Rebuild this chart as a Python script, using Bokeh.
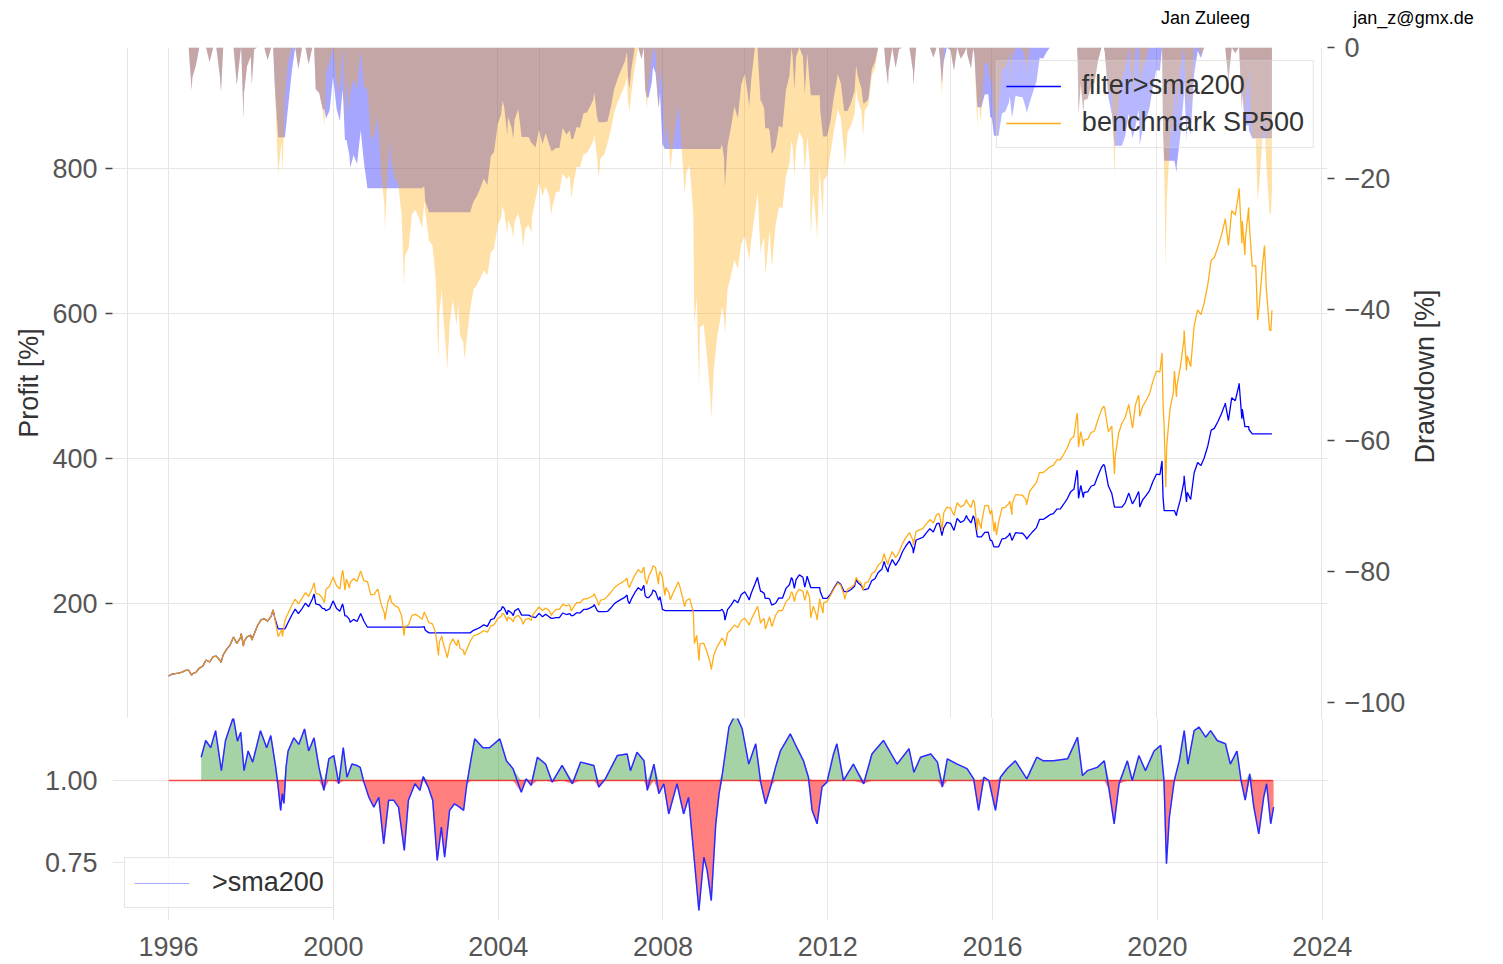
import math
import numpy as np
import pandas as pd
from bokeh.plotting import figure
from bokeh.layouts import column, row
from bokeh.models import (ColumnDataSource, Range1d, LinearAxis, FixedTicker, Grid, Plot,
                          Legend, LegendItem, Label, DatetimeTickFormatter, PrintfTickFormatter)
from bokeh.embed import file_html
from bokeh.resources import INLINE

FONT = "Liberation Sans"

# ---------------- data ----------------
dates = [
    "1996-01-02","1996-01-31","1996-02-29","1996-03-29","1996-04-30","1996-05-31","1996-06-28","1996-07-24","1996-07-31","1996-08-30","1996-09-30","1996-10-31","1996-11-29","1996-12-31",
    "1997-01-31","1997-02-28","1997-03-31","1997-04-11","1997-04-30","1997-05-30","1997-06-30","1997-07-31","1997-08-29","1997-09-30","1997-10-07","1997-10-27","1997-10-31","1997-11-28","1997-12-31",
    "1998-01-09","1998-01-30","1998-02-27","1998-03-31","1998-04-30","1998-05-29","1998-06-30","1998-07-17","1998-07-31","1998-08-31","1998-09-30","1998-10-08","1998-10-30","1998-11-30","1998-12-31",
    "1999-01-29","1999-02-26","1999-03-31","1999-04-30","1999-05-28","1999-06-30","1999-07-16","1999-07-30","1999-08-31","1999-09-30","1999-10-15","1999-10-29","1999-11-30","1999-12-31",
    "2000-01-31","2000-02-29","2000-03-24","2000-03-31","2000-04-14","2000-04-28","2000-05-24","2000-05-31","2000-06-30","2000-07-31","2000-08-31","2000-09-01","2000-09-29","2000-10-31","2000-11-30","2000-12-29",
    "2001-01-31","2001-02-28","2001-03-30","2001-04-04","2001-04-30","2001-05-21","2001-05-31","2001-06-29","2001-07-31","2001-08-31","2001-09-21","2001-09-28","2001-10-31","2001-11-30","2001-12-31",
    "2002-01-31","2002-02-28","2002-03-19","2002-03-28","2002-04-30","2002-05-31","2002-06-28","2002-07-23","2002-07-31","2002-08-22","2002-08-30","2002-09-30","2002-10-09","2002-10-31","2002-11-27","2002-11-29","2002-12-31",
    "2003-01-14","2003-01-31","2003-02-28","2003-03-11","2003-03-31","2003-04-30","2003-05-30","2003-06-30","2003-07-31","2003-08-29","2003-09-30","2003-10-31","2003-11-28","2003-12-31",
    "2004-01-30","2004-02-11","2004-02-27","2004-03-24","2004-03-31","2004-04-30","2004-05-17","2004-05-28","2004-06-30","2004-07-30","2004-08-12","2004-08-31","2004-09-30","2004-10-25","2004-10-29","2004-11-30","2004-12-31",
    "2005-01-31","2005-02-28","2005-03-31","2005-04-20","2005-04-29","2005-05-31","2005-06-30","2005-07-29","2005-08-31","2005-09-30","2005-10-13","2005-10-31","2005-11-30","2005-12-30",
    "2006-01-31","2006-02-28","2006-03-31","2006-04-28","2006-05-05","2006-05-31","2006-06-13","2006-06-30","2006-07-31","2006-08-31","2006-09-29","2006-10-31","2006-11-30","2006-12-29",
    "2007-01-31","2007-02-20","2007-02-28","2007-03-13","2007-03-30","2007-04-30","2007-05-31","2007-06-29","2007-07-19","2007-07-31","2007-08-15","2007-08-31","2007-09-28","2007-10-09","2007-10-31","2007-11-26","2007-11-30","2007-12-10","2007-12-31",
    "2008-01-22","2008-01-31","2008-02-29","2008-03-10","2008-03-31","2008-04-30","2008-05-19","2008-05-30","2008-06-30","2008-07-15","2008-07-31","2008-08-29","2008-09-30","2008-10-10","2008-10-31","2008-11-20","2008-11-28","2008-12-31",
    "2009-01-30","2009-02-27","2009-03-09","2009-03-31","2009-04-30","2009-05-29","2009-06-12","2009-06-30","2009-07-08","2009-07-31","2009-08-31","2009-09-30","2009-10-30","2009-11-30","2009-12-31",
    "2010-01-29","2010-02-08","2010-02-26","2010-03-31","2010-04-23","2010-04-30","2010-05-20","2010-05-28","2010-06-21","2010-06-30","2010-07-02","2010-07-30","2010-08-09","2010-08-26","2010-08-31","2010-09-30","2010-10-29","2010-11-30","2010-12-31",
    "2011-01-31","2011-02-18","2011-02-28","2011-03-16","2011-03-31","2011-04-29","2011-05-31","2011-06-16","2011-06-30","2011-07-07","2011-07-29","2011-08-08","2011-08-31","2011-09-30","2011-10-03","2011-10-27","2011-10-31","2011-11-25","2011-11-30","2011-12-30",
    "2012-01-31","2012-02-29","2012-03-30","2012-04-02","2012-04-30","2012-05-31","2012-06-04","2012-06-29","2012-07-31","2012-08-31","2012-09-14","2012-09-28","2012-10-31","2012-11-15","2012-11-30","2012-12-31",
    "2013-01-31","2013-02-28","2013-03-28","2013-04-30","2013-05-21","2013-05-31","2013-06-24","2013-06-28","2013-07-31","2013-08-30","2013-09-30","2013-10-31","2013-11-29","2013-12-31",
    "2014-01-31","2014-02-03","2014-02-28","2014-03-31","2014-04-30","2014-05-30","2014-06-30","2014-07-31","2014-08-29","2014-09-18","2014-09-30","2014-10-15","2014-10-31","2014-11-28","2014-12-31",
    "2015-01-30","2015-02-27","2015-03-31","2015-04-30","2015-05-21","2015-05-29","2015-06-30","2015-07-20","2015-07-31","2015-08-25","2015-08-31","2015-09-29","2015-09-30","2015-10-30","2015-11-30","2015-12-18","2015-12-31",
    "2016-01-20","2016-01-29","2016-02-11","2016-02-29","2016-03-31","2016-04-29","2016-05-31","2016-06-08","2016-06-27","2016-06-30","2016-07-29","2016-08-31","2016-09-30","2016-10-31","2016-11-04","2016-11-30","2016-12-30",
    "2017-01-31","2017-02-28","2017-03-31","2017-04-28","2017-05-31","2017-06-30","2017-07-31","2017-08-31","2017-09-29","2017-10-31","2017-11-30","2017-12-29",
    "2018-01-26","2018-01-31","2018-02-08","2018-02-28","2018-03-23","2018-03-29","2018-04-30","2018-05-31","2018-06-29","2018-07-31","2018-08-31","2018-09-20","2018-09-28","2018-10-31","2018-11-30","2018-12-24","2018-12-31",
    "2019-01-31","2019-02-28","2019-03-29","2019-04-30","2019-05-31","2019-06-03","2019-06-28","2019-07-26","2019-07-31","2019-08-05","2019-08-30","2019-09-30","2019-10-31","2019-11-29","2019-12-31",
    "2020-01-31","2020-02-19","2020-02-28","2020-03-09","2020-03-23","2020-03-31","2020-04-30","2020-05-29","2020-06-08","2020-06-26","2020-06-30","2020-07-31","2020-08-31","2020-09-02","2020-09-23","2020-09-30","2020-10-30","2020-11-30","2020-12-31",
    "2021-01-29","2021-02-26","2021-03-31","2021-04-30","2021-05-28","2021-06-30","2021-07-30","2021-08-31","2021-09-02","2021-09-30","2021-10-29","2021-11-30","2021-12-31",
    "2022-01-03","2022-01-27","2022-01-31","2022-02-23","2022-02-28","2022-03-29","2022-03-31","2022-04-29","2022-05-31","2022-06-16","2022-06-30","2022-07-29","2022-08-16","2022-08-31","2022-09-30","2022-10-12","2022-10-21",
]

benchmark = [
    100.0,102.5,103.2,104.0,105.4,107.8,108.0,101.0,103.1,105.0,110.7,113.6,122.0,119.3,
    126.6,127.4,122.0,118.8,129.1,136.7,142.6,153.7,144.9,152.6,158.4,141.3,147.3,153.9,156.3,
    149.5,157.9,169.0,177.5,179.1,175.7,182.7,191.2,180.5,154.2,163.8,154.6,177.0,187.5,198.0,
    206.2,199.5,207.2,215.1,209.7,221.1,228.6,214.1,212.7,206.6,201.0,219.6,223.8,236.7,
    224.6,220.1,246.1,241.4,218.5,234.0,221.3,228.9,234.3,230.5,244.5,245.0,231.4,230.3,211.8,212.7,
    220.1,199.8,186.9,177.7,201.3,211.5,202.3,197.2,195.1,182.6,155.6,167.7,170.7,183.6,185.0,
    182.1,178.3,188.5,184.8,173.5,171.9,159.5,128.5,146.9,155.1,147.6,131.3,125.1,142.7,151.3,150.8,141.7,
    150.1,137.9,135.5,129.0,136.6,147.7,155.2,157.0,159.5,162.4,160.4,169.3,170.5,179.1,
    182.2,186.5,184.4,175.8,181.4,178.4,174.6,180.5,183.8,177.5,171.3,177.9,179.6,176.4,182.1,189.1,195.2,
    190.3,193.9,190.2,183.3,186.4,191.9,191.9,198.8,196.6,198.0,189.6,194.4,201.3,201.1,
    206.2,206.3,208.6,211.1,213.6,204.6,197.1,204.6,205.7,210.0,215.2,222.0,225.6,228.5,
    231.7,235.2,226.6,222.0,228.9,238.8,246.6,242.2,250.2,234.4,226.6,237.5,246.0,252.1,249.6,226.7,238.6,244.2,236.6,
    211.1,222.1,214.4,205.1,213.1,223.2,229.8,225.6,206.2,195.7,204.2,206.7,187.9,144.9,156.1,121.2,144.4,145.5,
    133.1,118.4,109.0,128.5,140.6,148.1,152.4,148.1,141.6,159.1,164.4,170.3,166.9,176.5,179.6,
    173.0,170.2,177.9,188.4,196.1,191.2,172.6,175.5,179.3,166.0,164.7,177.5,181.7,168.7,169.0,183.8,190.6,190.2,202.6,
    207.2,216.4,213.8,202.5,213.6,219.7,216.7,204.2,212.8,218.0,208.2,180.3,196.4,182.3,177.1,206.9,201.9,186.7,200.9,202.6,
    211.4,220.0,226.9,228.6,225.2,211.1,205.9,219.4,222.2,226.6,236.1,232.1,227.5,218.0,228.1,229.8,
    241.3,244.0,252.8,257.4,268.9,262.7,253.4,258.8,271.6,263.1,270.9,283.0,290.9,297.8,
    287.2,280.6,299.6,301.6,303.5,309.9,315.8,311.0,322.7,324.0,317.7,300.0,325.1,333.1,331.7,
    321.4,339.0,333.1,336.0,343.3,339.5,332.4,342.9,338.9,300.9,317.7,303.2,309.3,335.0,335.2,323.1,329.3,
    299.5,312.6,294.7,311.3,331.8,332.7,337.8,341.4,322.3,338.1,350.2,349.7,349.3,342.5,335.9,354.2,360.7,
    367.1,380.8,380.6,384.1,388.5,390.4,398.0,398.2,405.9,414.9,426.5,430.7,
    462.8,454.9,415.8,437.2,417.0,425.4,426.6,435.8,437.9,453.7,467.4,472.1,469.4,436.9,444.7,378.8,403.9,
    435.6,448.6,456.6,474.6,443.4,442.1,473.9,487.5,480.1,458.3,471.5,479.6,489.4,506.0,520.5,
    519.6,545.5,475.9,442.5,360.4,416.4,469.2,490.4,520.7,484.8,499.5,527.0,563.9,576.9,521.5,541.8,526.8,583.4,605.1,
    598.4,614.0,640.0,673.6,677.3,692.3,708.1,728.6,730.9,693.9,741.9,735.7,767.8,
    772.7,697.0,727.5,680.7,704.6,746.2,729.8,665.6,665.7,590.7,609.8,665.4,693.6,637.2,577.6,576.3,604.6,
]

strategy = [
    100.0,102.5,103.2,104.0,105.4,107.8,108.0,101.0,103.1,105.0,110.7,113.6,122.0,119.3,
    126.6,127.4,122.0,118.8,129.1,136.7,142.6,153.7,144.9,152.6,158.4,141.3,147.3,153.9,156.3,
    149.5,157.9,169.0,177.5,179.1,175.7,182.7,191.2,180.5,165.0,165.0,165.0,165.0,174.8,184.5,
    192.2,185.9,193.1,200.5,195.4,206.1,213.1,199.5,198.2,193.0,193.0,190.0,192.5,203.6,
    193.2,189.2,199.3,195.5,183.0,183.0,178.0,174.0,178.1,175.2,185.8,186.2,175.9,167.3,167.3,167.3,
    167.3,167.3,167.3,167.3,167.3,167.3,167.3,167.3,167.3,167.3,167.3,167.3,167.3,167.3,167.3,
    167.3,167.3,168.0,163.0,159.5,159.5,159.5,159.5,159.5,159.5,159.5,159.5,159.5,159.5,159.5,159.5,159.5,
    159.5,159.5,159.5,159.5,159.5,159.5,163.0,164.9,167.5,170.5,168.4,177.8,179.0,188.1,
    191.3,195.8,193.6,184.6,190.5,187.3,183.3,189.5,193.0,184.0,184.0,184.0,184.0,182.0,182.0,180.6,186.4,
    181.7,185.2,181.6,179.5,179.5,180.4,180.4,186.9,184.8,186.1,183.3,183.3,187.2,187.0,
    191.8,191.9,194.0,196.3,198.6,190.3,188.8,188.8,188.8,189.0,193.7,199.8,203.0,205.7,
    208.5,211.7,203.9,199.8,206.0,214.9,221.9,218.0,225.2,211.0,208.0,208.0,213.3,218.6,216.4,205.0,205.0,209.5,192.0,
    190.3,190.3,190.3,190.3,190.3,190.3,190.3,190.3,190.3,190.3,190.3,190.3,190.3,190.3,190.3,190.3,190.3,190.3,
    190.3,190.3,190.3,190.3,190.3,190.3,192.0,187.0,177.0,191.6,197.9,205.0,200.9,212.5,216.2,
    208.3,204.9,214.2,226.8,236.1,230.2,216.7,216.7,214.0,207.0,207.0,207.0,206.0,198.0,198.0,200.3,207.8,207.3,220.8,
    225.8,235.9,233.0,220.7,232.8,239.5,236.2,222.6,231.9,237.6,226.9,222.0,222.0,222.0,222.0,222.0,216.6,207.0,207.0,207.0,
    212.7,221.3,228.3,230.0,226.6,216.3,216.3,216.3,219.3,223.7,233.0,229.1,224.5,219.1,219.1,220.6,
    231.6,234.2,242.7,247.1,258.1,252.2,243.3,248.4,260.7,252.6,260.1,271.7,279.3,285.9,
    275.7,269.4,287.6,289.5,291.4,297.5,303.2,298.6,309.8,311.0,305.0,293.8,304.2,311.8,310.5,
    300.8,317.3,311.8,314.5,321.3,317.8,311.1,321.0,317.2,292.0,292.0,292.0,292.0,298.2,298.4,287.0,287.0,
    278.0,278.0,278.0,278.0,289.1,289.8,294.2,297.4,287.5,287.5,297.7,297.2,296.9,291.1,289.0,294.0,299.4,
    304.7,316.1,315.9,318.8,322.5,324.0,330.3,330.5,336.9,344.4,354.0,357.5,
    384.1,377.6,345.1,362.9,346.1,353.1,354.1,361.7,363.5,376.6,387.9,391.8,389.6,362.0,352.0,333.0,333.0,
    333.0,333.0,338.9,352.3,337.8,337.8,344.5,354.4,349.0,333.2,342.8,348.7,355.8,367.9,378.4,
    377.7,396.6,346.0,328.0,328.0,328.0,328.0,328.0,328.0,321.0,325.7,343.6,367.7,376.1,340.0,353.3,343.5,380.4,394.5,
    390.2,400.3,417.3,439.2,441.6,451.4,461.7,475.0,476.5,452.4,483.7,479.7,500.6,
    503.8,455.0,468.0,444.0,444.0,444.0,440.0,434.0,434.0,434.0,434.0,434.0,434.0,434.0,434.0,434.0,434.0,
]

# price / sma200 ratio (decimal year, value)
ratio_year = [
    1996.79,1996.90,1997.02,1997.14,1997.28,1997.38,1997.57,1997.67,1997.75,1997.83,1997.93,
    1998.04,1998.23,1998.38,1998.48,1998.60,1998.65,1998.72,1998.76,1998.80,1998.85,1998.90,
    1999.04,1999.16,1999.30,1999.40,1999.53,1999.65,1999.77,1999.89,
    2000.01,2000.13,2000.24,2000.33,2000.45,2000.57,2000.65,2000.74,2000.86,2000.98,
    2001.10,2001.22,2001.34,2001.46,2001.58,2001.72,2001.82,2001.98,
    2002.10,2002.18,2002.30,2002.41,2002.52,2002.62,2002.70,2002.82,2002.94,
    2003.06,2003.16,2003.24,2003.35,2003.43,2003.63,2003.79,
    2004.04,2004.20,2004.36,2004.56,2004.68,2004.80,2004.95,
    2005.15,2005.31,2005.55,2005.80,2006.00,2006.32,2006.44,2006.60,2006.89,
    2007.13,2007.21,2007.37,2007.54,2007.62,2007.78,2007.90,
    2008.02,2008.14,2008.34,2008.50,2008.62,2008.79,2008.87,2008.99,
    2009.07,2009.17,2009.28,2009.36,2009.44,2009.60,2009.76,2009.92,
    2010.08,2010.25,2010.37,2010.49,2010.61,2010.73,2010.85,
    2011.09,2011.25,2011.41,2011.53,2011.62,2011.74,2011.86,2011.98,
    2012.14,2012.22,2012.38,2012.62,2012.87,2013.07,2013.35,2013.68,2013.97,
    2014.09,2014.25,2014.50,2014.66,2014.78,2014.90,
    2015.14,2015.38,2015.54,2015.66,2015.79,2015.91,
    2016.07,2016.19,2016.35,2016.55,2016.83,2017.07,2017.23,2017.47,2017.82,
    2018.06,2018.18,2018.30,2018.54,2018.71,2018.83,2018.95,
    2019.07,2019.27,2019.39,2019.55,2019.71,2019.92,
    2020.08,2020.16,2020.22,2020.29,2020.41,2020.53,2020.65,2020.74,2020.89,
    2021.01,2021.17,2021.29,2021.45,2021.65,2021.77,2021.93,
    2022.03,2022.13,2022.24,2022.34,2022.46,2022.58,2022.65,2022.75,2022.82,
]
ratio_value = [
    1.071,1.122,1.100,1.152,1.030,1.122,1.193,1.120,1.147,1.030,1.090,
    1.056,1.152,1.100,1.137,1.040,0.990,0.909,0.960,0.930,1.040,1.090,
    1.130,1.110,1.157,1.090,1.130,1.040,0.970,1.066,
    1.076,0.990,1.100,1.010,1.050,1.046,1.040,0.995,0.949,0.919,
    0.949,0.807,0.940,0.940,0.919,0.787,0.940,0.990,
    0.970,1.012,0.980,0.940,0.756,0.858,0.766,0.909,0.929,
    0.919,0.909,0.990,1.071,1.127,1.100,1.100,
    1.127,1.060,1.036,0.964,1.005,0.985,1.071,
    1.050,0.995,1.046,0.990,1.056,1.046,0.980,1.005,1.076,
    1.081,1.030,1.086,1.060,0.970,1.050,0.960,
    0.990,0.898,0.990,0.898,0.949,0.715,0.604,0.766,
    0.726,0.634,0.868,0.960,1.020,1.163,1.203,1.158,
    1.050,1.112,0.995,0.929,0.980,1.040,1.090,
    1.142,1.100,1.060,1.010,0.909,0.868,0.980,0.995,
    1.081,1.112,1.000,1.050,0.990,1.081,1.122,1.050,1.097,
    1.025,1.071,1.081,1.056,0.980,1.066,
    1.050,1.036,1.005,0.909,1.010,1.000,
    0.909,1.010,1.036,1.060,1.005,1.071,1.060,1.060,1.066,
    1.132,1.015,1.030,1.040,1.060,0.970,0.868,
    0.990,1.060,1.000,1.076,1.030,1.090,
    1.107,1.000,0.746,0.888,1.000,1.060,1.152,1.050,1.152,
    1.163,1.132,1.152,1.122,1.112,1.050,1.090,
    1.000,0.940,1.020,0.919,0.837,0.949,0.990,0.868,0.919,
]

tick_years = [1996, 2000, 2004, 2008, 2012, 2016, 2020, 2024]
profit_ticks = [200, 400, 600, 800]
dd_ticks = [0, -20, -40, -60, -80, -100]
ratio_ticks = [0.75, 1.0]
ratio_baseline = 1.0
author = "Jan Zuleeg"
email = "jan_z@gmx.de"
dd_title = "Drawdown [%]"

assert len(dates) == len(benchmark) == len(strategy), (len(dates), len(benchmark), len(strategy))
assert len(ratio_year) == len(ratio_value), (len(ratio_year), len(ratio_value))

# ---------------- derived ----------------
t = pd.to_datetime(dates)
bench = np.array(benchmark)
strat = np.array(strategy)
dd_bench = (bench / np.maximum.accumulate(bench) - 1.0) * 100.0
dd_strat = (strat / np.maximum.accumulate(strat) - 1.0) * 100.0


def frac_year(y):
    yi = int(y)
    a = pd.Timestamp(year=yi, month=1, day=1)
    b = pd.Timestamp(year=yi + 1, month=1, day=1)
    return a + (b - a) * (y - yi)


rt = pd.DatetimeIndex([frac_year(y) for y in ratio_year])
r = np.array(ratio_value)
r_up = np.maximum(r, ratio_baseline)
r_dn = np.minimum(r, ratio_baseline)

year_ms = [pd.Timestamp(year=y, month=1, day=1).value / 1e6 for y in tick_years]

# ---------------- layout (pixels) ----------------
W = 1495
HEAD = 34                        # header strip height
FR_L, FR_R = 112, 1328           # frame left / right
FR_T, FR_MID, FR_B = 47, 718, 920
W1 = 1408                        # width of top panel (incl. right axis)
GRID = "#e6e6e6"
HAS_FA = "frame_align" in Plot.properties()

X0, X1 = pd.Timestamp("1994-08-22"), pd.Timestamp("2024-02-26")
x_range = Range1d(X0, X1)
PX_PER_PROFIT = 0.725
PX_PER_DD = 6.55
P_HI = 800 + (168 - FR_T) / PX_PER_PROFIT
P_LO = P_HI - (FR_MID - FR_T) / PX_PER_PROFIT
DD_LO = -(FR_MID - FR_T) / PX_PER_DD


def style_axis(ax, tick_out=7):
    ax.axis_line_color = None
    ax.major_tick_out = tick_out
    ax.major_tick_in = 0
    ax.minor_tick_out = 0
    ax.minor_tick_in = 0
    ax.major_tick_line_color = "#444444"
    ax.major_tick_line_width = 1.5
    ax.major_label_text_font = FONT
    ax.major_label_text_font_size = "27px"
    ax.major_label_text_color = "#555555"
    ax.axis_label_text_font = FONT
    ax.axis_label_text_font_size = "27px"
    ax.axis_label_text_font_style = "normal"
    ax.axis_label_text_color = "#333333"


def blank(width, height, xr, yr):
    f = figure(width=width, height=height, x_range=xr, y_range=yr,
               x_axis_location=None, y_axis_location=None,
               output_backend="svg", toolbar_location=None, min_border=0)
    f.outline_line_color = None
    f.xgrid.visible = False
    f.ygrid.visible = False
    if HAS_FA:
        f.frame_align = False
    return f


# ---------------- header strip with the author texts ----------------
if HAS_FA:
    p0 = blank(W, HEAD, Range1d(0, W), Range1d(HEAD, 0))
else:
    p0 = blank(W, HEAD, Range1d(FR_L, FR_R), Range1d(HEAD, 0))
p0.add_layout(Label(x=1205, y=17, text=author, text_align="center", text_baseline="middle",
                    text_font=FONT, text_font_size="18px", text_color="black"))
p0.add_layout(Label(x=1413, y=17, text=email, text_align="center", text_baseline="middle",
                    text_font=FONT, text_font_size="18px", text_color="black"))

# ---------------- top panel ----------------
p1 = figure(width=W1 if HAS_FA else W, height=FR_MID - HEAD, x_range=x_range, y_range=Range1d(P_LO, P_HI),
            x_axis_type="datetime", x_axis_location=None,
            output_backend="svg", toolbar_location=None,
            min_border_left=FR_L, min_border_right=(W1 if HAS_FA else W) - FR_R,
            min_border_top=FR_T - HEAD, min_border_bottom=0)
p1.outline_line_color = None
p1.extra_y_ranges = {"dd": Range1d(DD_LO, 0)}

p1.add_layout(Grid(dimension=0, ticker=FixedTicker(ticks=year_ms),
                   grid_line_color=GRID, grid_line_width=1))
p1.ygrid.grid_line_color = GRID
p1.yaxis.ticker = FixedTicker(ticks=profit_ticks)
p1.yaxis.axis_label = "Profit [%]"
style_axis(p1.yaxis[0])
p1.yaxis.major_label_standoff = 8
p1.yaxis.axis_label_standoff = 5

src = ColumnDataSource(dict(t=t, bench=bench, strat=strat, ddb=dd_bench, dds=dd_strat))
l_strat = p1.line("t", "strat", source=src, line_color="#0000ff", line_width=1.3)
l_bench = p1.line("t", "bench", source=src, line_color="#ffa500", line_width=1.3, line_alpha=0.9)
p1.varea(x="t", y1=0, y2="dds", source=src, y_range_name="dd", fill_color="#0000ff", fill_alpha=0.35)
p1.varea(x="t", y1=0, y2="ddb", source=src, y_range_name="dd", fill_color="#ffa500", fill_alpha=0.35)

ax_r = LinearAxis(y_range_name="dd", ticker=FixedTicker(ticks=dd_ticks))
style_axis(ax_r)
ax_r.major_label_standoff = 10
ax_r.major_label_overrides = {v: ("0" if v == 0 else "\u2212" + str(-v)) for v in dd_ticks}
if not HAS_FA:
    ax_r.axis_label = dd_title
    ax_r.axis_label_standoff = 14
p1.add_layout(ax_r, "right")

leg1 = Legend(items=[LegendItem(label="filter>sma200", renderers=[l_strat]),
                     LegendItem(label="benchmark SP500", renderers=[l_bench])],
              location="top_right", margin=13, padding=9, spacing=6,
              glyph_width=55, label_standoff=21,
              label_text_font=FONT, label_text_font_size="27px", label_text_color="#333333",
              border_line_color="#cccccc", border_line_width=1.5,
              background_fill_color="white", background_fill_alpha=0.2)
p1.add_layout(leg1)

if HAS_FA:
    # strip to the right of the top panel holding the right axis title (reads bottom-to-top)
    pR = blank(W - W1, FR_MID - HEAD, Range1d(W1, W), Range1d(FR_MID, HEAD))
    pR.add_layout(Label(x=1424, y=376, text=dd_title, angle=math.pi / 2,
                        text_align="center", text_baseline="middle", text_font=FONT,
                        text_font_size="27px", text_color="#333333"))
    top = row(p1, pR)
else:
    top = p1

# ---------------- bottom panel ----------------
R_HI = 1.0 + (780 - FR_MID) / 328.0
R_LO = 1.0 - (FR_B - 780) / 328.0
p2 = figure(width=W, height=(FR_B - FR_MID) + 44, x_range=x_range, y_range=Range1d(R_LO, R_HI),
            x_axis_type="datetime", output_backend="svg", toolbar_location=None,
            min_border_left=FR_L, min_border_right=W - FR_R, min_border_top=0, min_border_bottom=44)
p2.outline_line_color = None
p2.xgrid.grid_line_color = GRID
p2.ygrid.grid_line_color = GRID
p2.xaxis.ticker = FixedTicker(ticks=year_ms)
p2.xaxis.formatter = DatetimeTickFormatter(years="%Y", months="%Y", days="%Y", hours="%Y",
                                           hourmin="%Y", minutes="%Y", minsec="%Y",
                                           seconds="%Y", milliseconds="%Y", microseconds="%Y")
p2.yaxis.ticker = FixedTicker(ticks=ratio_ticks)
p2.yaxis.formatter = PrintfTickFormatter(format="%.2f")
style_axis(p2.xaxis[0], tick_out=0)
style_axis(p2.yaxis[0], tick_out=0)
p2.xaxis.major_label_standoff = 16
p2.yaxis.major_label_standoff = 15

rsrc = ColumnDataSource(dict(t=rt, r=r, up=r_up, dn=r_dn))
p2.varea(x="t", y1=ratio_baseline, y2="up", source=rsrc, fill_color="green", fill_alpha=0.35)
p2.varea(x="t", y1=ratio_baseline, y2="dn", source=rsrc, fill_color="red", fill_alpha=0.5)
p2.line(x=[t[0], t[-1]], y=[ratio_baseline, ratio_baseline], line_color="red", line_width=1.5, line_alpha=0.7)
lr_leg = p2.line("t", "r", source=rsrc, line_color="#a6a6ff", line_alpha=1.0, line_width=1.2)
p2.line("t", "r", source=rsrc, line_color="#0000ff", line_alpha=0.75, line_width=1.5)

leg2 = Legend(items=[LegendItem(label=">sma200", renderers=[lr_leg])],
              location="bottom_left", margin=12, padding=9, spacing=0,
              glyph_width=55, label_standoff=23,
              label_text_font=FONT, label_text_font_size="27px", label_text_color="#333333",
              border_line_color="#cccccc", border_line_width=1.5,
              background_fill_color="white", background_fill_alpha=0.8)
p2.add_layout(leg2)

layout = column(p0, top, p2)
open("out.html", "w").write(file_html(layout, INLINE, title="filter>sma200"))
